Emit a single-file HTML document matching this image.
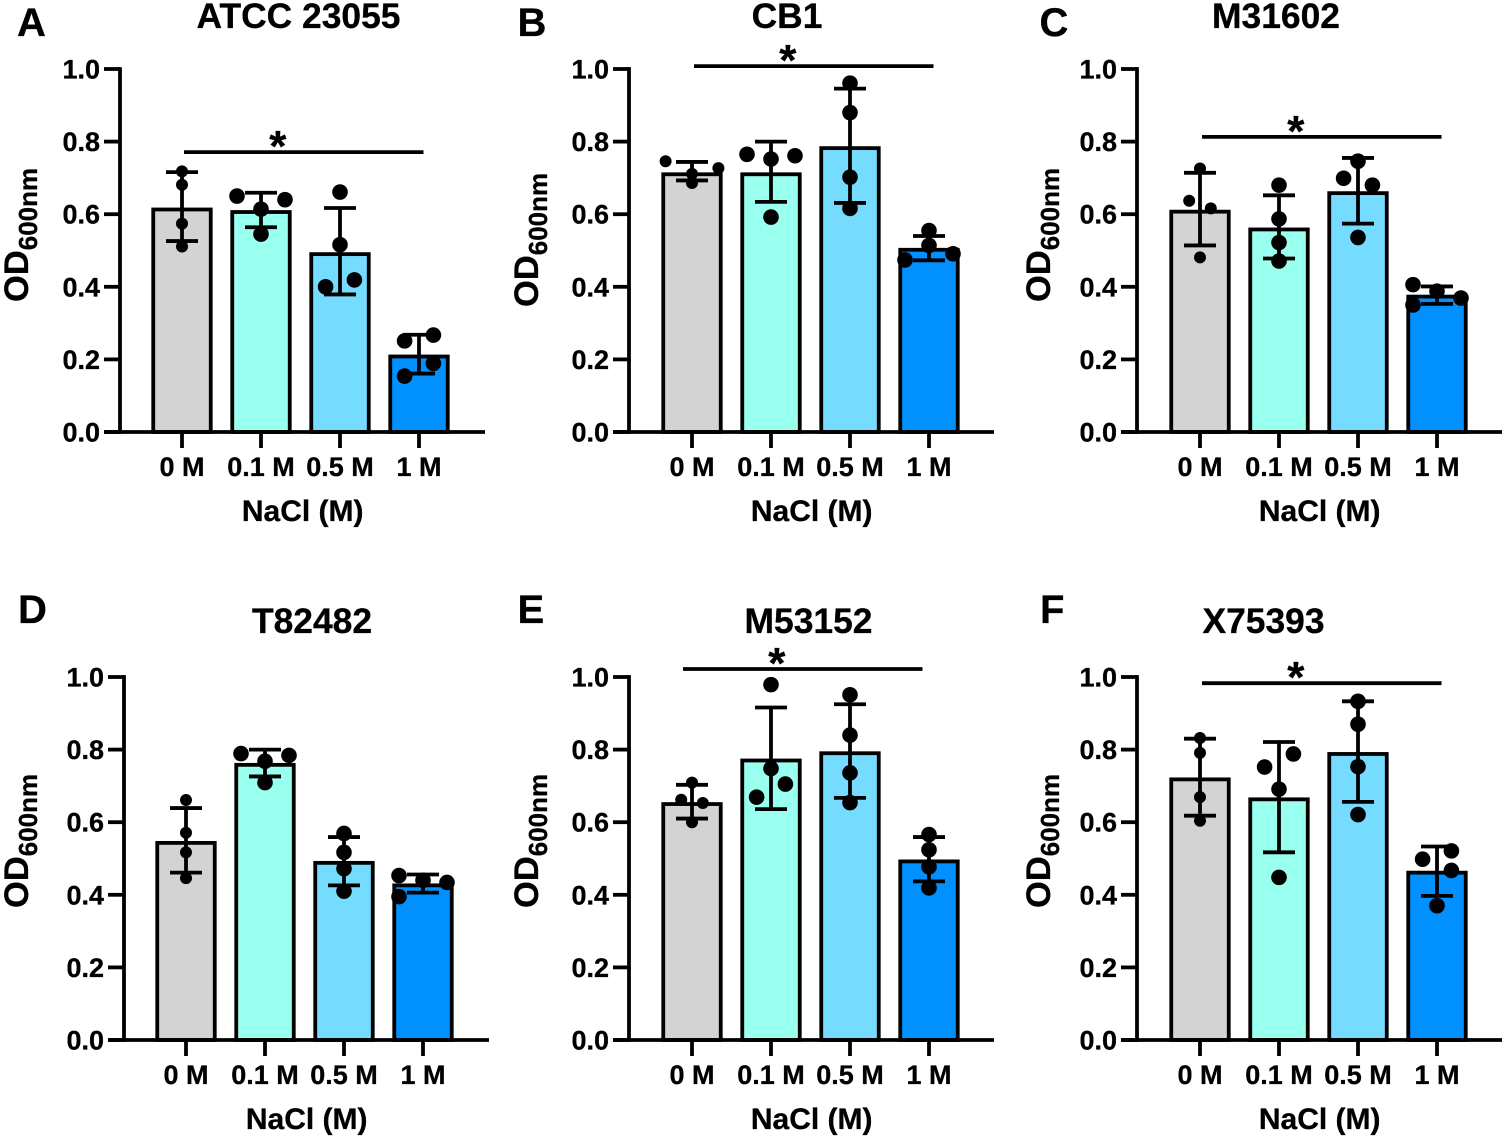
<!DOCTYPE html>
<html lang="en">
<head>
<meta charset="utf-8">
<title>OD600nm by NaCl concentration</title>
<style>
html,body{margin:0;padding:0;background:#fff;}
svg{display:block;}
text{font-family:"Liberation Sans",Arial,sans-serif;font-weight:700;fill:#000;stroke:#000;stroke-width:0.3px;}
</style>
</head>
<body>
<svg id="figure" xmlns="http://www.w3.org/2000/svg" width="1505" height="1138" viewBox="0 0 1505 1138"></svg>
<script>
// ---- data ----
const panelLetters = ['A','B','C','D','E','F'];
const panelTitles = ['ATCC 23055','CB1','M31602','T82482','M53152','X75393'];
const categories = ['0 M','0.1 M','0.5 M','1 M'];
const yTickValues = [0,0.2,0.4,0.6,0.8,1];
const yTickLabels = ['0.0','0.2','0.4','0.6','0.8','1.0'];
const xAxisTitle = 'NaCl (M)';
const yAxisMain = 'OD';
const yAxisSub = '600nm';
const significanceMark = '*';

const means = [
  [0.613,0.606,0.490,0.208],
  [0.710,0.710,0.782,0.502],
  [0.607,0.558,0.658,0.373],
  [0.543,0.758,0.488,0.426],
  [0.650,0.770,0.790,0.492],
  [0.718,0.663,0.788,0.461]
];
const errorHigh = [
  [0.716,0.659,0.617,0.268],
  [0.744,0.800,0.946,0.540],
  [0.714,0.652,0.755,0.401],
  [0.639,0.800,0.559,0.456],
  [0.703,0.916,0.925,0.559],
  [0.830,0.821,0.933,0.533]
];
const errorLow = [
  [0.526,0.564,0.379,0.161],
  [0.693,0.634,0.631,0.473],
  [0.514,0.478,0.574,0.353],
  [0.461,0.726,0.426,0.406],
  [0.610,0.636,0.667,0.437],
  [0.618,0.517,0.656,0.397]
];
const replicates = [
  [[0.718,0.681,0.574,0.511],[0.650,0.640,0.614,0.545],[0.661,0.516,0.400,0.419],[0.267,0.251,0.189,0.154]],
  [[0.746,0.727,0.711,0.686],[0.765,0.761,0.752,0.592],[0.961,0.880,0.702,0.616],[0.555,0.514,0.491,0.474]],
  [[0.726,0.637,0.616,0.481],[0.680,0.587,0.522,0.471],[0.746,0.699,0.680,0.536],[0.406,0.388,0.369,0.350]],
  [[0.661,0.571,0.517,0.446],[0.789,0.784,0.768,0.709],[0.569,0.517,0.472,0.410],[0.453,0.440,0.434,0.395]],
  [[0.709,0.662,0.653,0.600],[0.979,0.748,0.705,0.669],[0.951,0.840,0.736,0.654],[0.566,0.524,0.477,0.419]],
  [[0.832,0.791,0.669,0.604],[0.788,0.752,0.691,0.448],[0.933,0.870,0.753,0.621],[0.521,0.498,0.467,0.370]]
];
// horizontal swarm slot of each replicate (unitless, -1..1)
const swarmSlots = [
  [[0,0,0,0],[-1,1,0,0],[0,0,-0.6,0.6],[0.6,-0.6,0.6,-0.6]],
  [[-1.1,1.1,0,0],[-1,1,0,0],[0,0,0,0],[0,0,1,-1]],
  [[0,-0.45,0.45,0],[0,0,0,0],[0,-0.6,0.6,0],[-1,0,1,-1]],
  [[0,0,0,0],[-1,1,0,0],[0,0,0,0],[-1,0,1,-1]],
  [[0,-0.45,0.45,0],[0,0,0.6,-0.6],[0,0,0,0],[0,0,0,0]],
  [[0,0,0,0],[0.6,-0.6,0,0],[0,0,0,0],[0.6,-0.6,0.6,0]]
];
// height of the significance bracket on the y scale (null = none)
const significanceLevels = [0.771,1.008,0.813,null,1.022,0.983];

// ---- layout ----
const barFills = ['#d3d3d3','#99ffee','#75dcff','#0090ff'];
const panelFrames = [
  {axisX:120,firstX:182,top:69,bottom:432,letterX:17,letterY:36,titleX:298.5,titleY:28,labelX:28,labelY:302,sigShift:2},
  {axisX:629,firstX:692,top:69,bottom:432,letterX:517.5,letterY:36,titleX:787,titleY:28,labelX:538,labelY:307,sigShift:2},
  {axisX:1137,firstX:1200,top:69,bottom:432,letterX:1039.5,letterY:36,titleX:1276,titleY:28,labelX:1050,labelY:302,sigShift:2},
  {axisX:124,firstX:186,top:677,bottom:1040,letterX:18,letterY:623,titleX:312,titleY:633,labelX:28,labelY:908,sigShift:2},
  {axisX:629,firstX:692,top:677,bottom:1040,letterX:517.5,letterY:623,titleX:808.5,titleY:633,labelX:538,labelY:908,sigShift:-9},
  {axisX:1137,firstX:1200,top:677,bottom:1040,letterX:1040,letterY:623,titleX:1263.5,titleY:633,labelX:1050,labelY:908,sigShift:2}
];
const STROKE = 3.8, BAR_WIDTH = 57.5, BAR_STEP = 79, CAP = 16, TICK = 16, AXIS_LENGTH = 365, SLOT = 24;

const NS = 'http://www.w3.org/2000/svg';
const svg = document.getElementById('figure');
function make(tag, parent, attrs, text){
  const n = document.createElementNS(NS, tag);
  for (const k in attrs) n.setAttribute(k, attrs[k]);
  if (text !== undefined) n.textContent = text;
  parent.appendChild(n);
  return n;
}
function lineAttrs(x1,y1,x2,y2){
  return {x1:x1,y1:y1,x2:x2,y2:y2,stroke:'#000','stroke-width':STROKE};
}

panelTitles.forEach(function(title, p){
  const f = panelFrames[p];
  const yScale = function(v){ return f.bottom - v * (f.bottom - f.top); };
  const xScale = function(i){ return f.firstX + i * BAR_STEP; };
  const slug = title.toLowerCase().replace(/\s+/g,'-');

  const g = make('g', svg, {});
  
  

  const letter = make('text', g, {x:f.letterX, y:f.letterY, 'font-size':40}, panelLetters[p]);
  
  

  const heading = make('text', g, {x:f.titleX, y:f.titleY, 'font-size':35.4, 'text-anchor':'middle'}, title);
  
  

  // bars
  categories.forEach(function(cat, i){
    const bar = make('rect', g, {
      x:xScale(i)-BAR_WIDTH/2, y:yScale(means[p][i]), width:BAR_WIDTH,
      height:yScale(0)-yScale(means[p][i]), fill:barFills[i], stroke:'#000', 'stroke-width':STROKE
    });
    
    
  });

  // error bars
  categories.forEach(function(cat, i){
    const x = xScale(i);
    const hi = yScale(errorHigh[p][i]), lo = yScale(errorLow[p][i]);
    const eg = make('g', g, {});
    
    
    make('line', eg, lineAttrs(x,hi,x,lo));
    make('line', eg, lineAttrs(x-CAP,hi,x+CAP,hi));
    make('line', eg, lineAttrs(x-CAP,lo,x+CAP,lo));
  });

  // replicate points
  categories.forEach(function(cat, i){
    const radius = i === 0 ? 6 : 7.8;
    replicates[p][i].forEach(function(v, k){
      const dot = make('circle', g, {cx:xScale(i)+swarmSlots[p][i][k]*SLOT, cy:yScale(v), r:radius, fill:'#000'});
      
      
    });
  });

  // y axis
  const yAxis = make('g', g, {});
  
  
  make('line', yAxis, lineAttrs(f.axisX, yScale(1)-STROKE/2, f.axisX, yScale(0)+STROKE/2));
  yTickValues.forEach(function(v, i){
    make('line', yAxis, lineAttrs(f.axisX-TICK, yScale(v), f.axisX, yScale(v)));
    const lab = make('text', yAxis, {x:f.axisX-20, y:yScale(v)+9.5, 'font-size':27, 'text-anchor':'end'}, yTickLabels[i]);
    
    
  });

  // x axis
  const xAxis = make('g', g, {});
  
  
  make('line', xAxis, lineAttrs(f.axisX-TICK, yScale(0), f.axisX+AXIS_LENGTH, yScale(0)));
  categories.forEach(function(cat, i){
    make('line', xAxis, lineAttrs(xScale(i), yScale(0), xScale(i), yScale(0)+TICK));
    const lab = make('text', xAxis, {x:xScale(i), y:yScale(0)+44, 'font-size':27, 'text-anchor':'middle'}, cat);
    
    
  });

  const xTitle = make('text', g, {x:f.axisX+AXIS_LENGTH/2+0.2, y:yScale(0)+89, 'font-size':30, 'text-anchor':'middle'}, xAxisTitle);
  
  

  const yTitle = make('text', g, {transform:'translate('+f.labelX+' '+f.labelY+') rotate(-90)', x:0, y:0, 'font-size':34.5}, yAxisMain);
  
  
  make('tspan', yTitle, {dy:9, 'font-size':26}, yAxisSub);

  // significance bracket
  if (significanceLevels[p] !== null){
    const sy = yScale(significanceLevels[p]);
    const x1 = xScale(0)+f.sigShift, x2 = xScale(3)+f.sigShift+2.5;
    const sig = make('line', g, lineAttrs(x1, sy, x2, sy));
    
    
    const star = make('text', g, {x:(x1+x2)/2-26, y:sy+9, 'font-size':44, 'text-anchor':'middle'}, significanceMark);
    
    
  }
});
</script>
</body>
</html>
